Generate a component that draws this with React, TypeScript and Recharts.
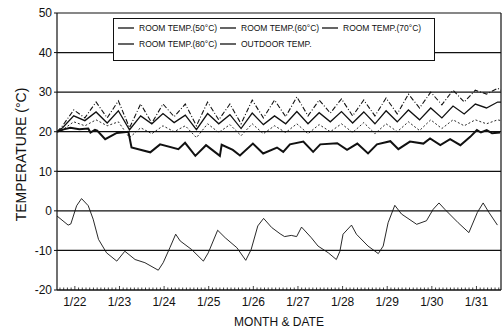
import React from 'react';
import {
  LineChart,
  Line,
  XAxis,
  YAxis,
  CartesianGrid,
  ReferenceLine,
  Legend,
} from 'recharts';

// x is measured in days from the left edge of the plot
const X_MAX = 9.95;

const dateTicks = [0.4, 1.4, 2.4, 3.4, 4.4, 5.4, 6.4, 7.4, 8.4, 9.4];
const dateLabels = ['1/22', '1/23', '1/24', '1/25', '1/26', '1/27', '1/28', '1/29', '1/30', '1/31'];
const yTicks = [-20, -10, 0, 10, 20, 30, 40, 50];

// room temps 60/70/80 share a half-day cycle grid
const gridDays = [
  0, 0.125, 0.375, 0.625, 0.875, 1.125, 1.375, 1.625, 1.875, 2.125, 2.375, 2.625, 2.875, 3.125,
  3.375, 3.625, 3.875, 4.125, 4.375, 4.625, 4.875, 5.125, 5.375, 5.625, 5.875, 6.125, 6.375,
  6.625, 6.875, 7.125, 7.375, 7.625, 7.875, 8.125, 8.375, 8.625, 8.875, 9.125, 9.375, 9.625,
  9.875, 9.95,
];
const room80Temps = [
  20, 21.5, 25.5, 23.5, 27.5, 23.5, 27.8, 21, 27, 22.2, 27, 23.8, 27, 21.5, 27.5, 23, 27, 22,
  28, 23.5, 28, 23.8, 28.8, 24, 28, 24.7, 28.3, 24, 28, 24, 28.5, 24.5, 29.5, 26, 30, 26.8,
  30.5, 27.5, 30.5, 29.5, 31, 30.5,
];
const room70Temps = [
  20, 21, 24, 22.8, 25, 22.2, 25.3, 20.5, 24, 22, 24.6, 22.3, 24.2, 20.5, 24.6, 22, 24.3, 20.8,
  24.7, 21.8, 24, 22, 25.1, 22, 24.8, 22.5, 25.1, 22.2, 25, 22, 25.3, 22.5, 25.5, 23, 26, 23.5,
  26.5, 24.5, 27, 26, 27.5, 27.5,
];
const room60Temps = [
  20, 20.5, 22.5, 21.5, 23, 21.5, 22.5, 18.5, 21, 19.5, 21.5, 20, 21.5, 18.5, 22, 19.8, 21.8,
  19, 22, 19.5, 21.5, 19.8, 22, 19.5, 21.8, 20, 22, 19.8, 22.3, 19.5, 22, 20, 22.5, 20.3, 23,
  20.8, 23, 21.5, 23, 22, 23, 22.8,
];

const room50Days = [
  0, 0.15, 0.3, 0.5, 0.7, 0.75, 0.85, 0.9, 1.08, 1.34, 1.6, 1.67, 2.09, 2.31, 2.72, 2.87, 3.1,
  3.34, 3.65, 3.69, 3.94, 4.1, 4.39, 4.62, 4.93, 5.07, 5.22, 5.52, 5.74, 5.9, 6.28, 6.5, 6.73,
  6.97, 7.17, 7.47, 7.65, 7.91, 8.21, 8.36, 8.59, 8.81, 9.04, 9.26, 9.41, 9.5, 9.63, 9.75, 9.93,
];
const room50Temps = [
  20, 20.6, 21, 20.6, 20.8, 19.8, 20.5, 20.3, 18.1, 19.7, 20, 16, 14.8, 16.8, 15.6, 17.2, 13.9,
  16.6, 13.9, 16.7, 15.4, 14, 17, 14.5, 16, 14.9, 16.8, 17.5, 14.9, 16.8, 17.1, 15.4, 17, 14.5,
  16.8, 17.6, 15.6, 17.5, 17, 18.3, 16.6, 18.1, 16.6, 18.7, 20.4, 19.8, 20.4, 19.6, 19.8,
];

const outdoorDays = [
  0, 0.25, 0.31, 0.44, 0.55, 0.7, 0.81, 0.93, 1.11, 1.34, 1.52, 1.75, 1.97, 2.27, 2.38, 2.53,
  2.66, 2.76, 3.02, 3.28, 3.39, 3.6, 3.77, 4.03, 4.23, 4.35, 4.5, 4.63, 4.81, 5.0, 5.1, 5.25,
  5.37, 5.48, 5.7, 5.85, 6.08, 6.26, 6.34, 6.41, 6.6, 6.71, 6.97, 7.2, 7.31, 7.42, 7.57, 7.72,
  8.06, 8.28, 8.43, 8.56, 8.69, 8.99, 9.23, 9.42, 9.55, 9.68, 9.87,
];
const outdoorTemps = [
  -1.3, -3.6, -3.3, 1.3, 3.1, 1.3, -2.1, -7.2, -10.6, -12.7, -10.2, -12.3, -13.1, -15, -13.1,
  -9.3, -5.9, -7.6, -9.8, -12.7, -10.6, -4.9, -6.8, -9.3, -12.5, -9.8, -3.8, -1.9, -4.2, -5.8,
  -6.5, -6.2, -6.5, -4.1, -6.8, -8.9, -10.6, -12.3, -10.2, -5.9, -3.6, -5.9, -8.9, -10.8, -8.9,
  -3.0, 1.4, -0.8, -3.4, -2.5, 0.4, 2.0, 0.4, -3.0, -5.5, -0.4, 2.0, -0.4, -3.6,
];

const toPoints = (days: number[], temps: number[]) =>
  days.map((d, i) => ({ d, v: temps[i] }));

// small tick every two hours, labelled one at noon
const minorTicks: number[] = [];
for (let j = -4; 0.4 + j / 12 <= X_MAX; j++) {
  minorTicks.push(Math.round((0.4 + j / 12) * 10000) / 10000);
}

const INK = '#111';
const FONT = '"Liberation Sans", Arial, Helvetica, sans-serif';

const series = [
  { key: 'r50', label: 'ROOM TEMP.(50°C)', data: toPoints(room50Days, room50Temps), width: 2, dash: undefined },
  { key: 'r60', label: 'ROOM TEMP.(60°C)', data: toPoints(gridDays, room60Temps), width: 0.9, dash: '2 2' },
  { key: 'r70', label: 'ROOM TEMP.(70°C)', data: toPoints(gridDays, room70Temps), width: 1.3, dash: undefined },
  { key: 'r80', label: 'ROOM TEMP.(80°C)', data: toPoints(gridDays, room80Temps), width: 1.1, dash: '5 2 1 2' },
  { key: 'out', label: 'OUTDOOR TEMP.', data: toPoints(outdoorDays, outdoorTemps), width: 0.9, dash: undefined },
];

const renderXTick = (props: any) => {
  const { x, y, payload } = props;
  const idx = dateTicks.findIndex((t) => Math.abs(t - payload.value) < 1e-6);
  return (
    <g>
      <line x1={x} y1={y} x2={x} y2={y - (idx >= 0 ? 4 : 2.5)} stroke={INK} strokeWidth={0.8} />
      {idx >= 0 && (
        <text x={x} y={y + 16} textAnchor="middle" fontSize={12} fill={INK} fontFamily={FONT}>
          {dateLabels[idx]}
        </text>
      )}
    </g>
  );
};

const YTitle = (props: any) => {
  const { viewBox } = props;
  const cx = viewBox.x - 6;
  const cy = viewBox.y + viewBox.height / 2 + 3;
  return (
    <text
      x={cx}
      y={cy}
      transform={`rotate(-90, ${cx}, ${cy})`}
      textAnchor="middle"
      dominantBaseline="central"
      fontSize={14}
      fill={INK}
      fontFamily={FONT}
    >
      TEMPERATURE (°C)
    </text>
  );
};

// legend item placement inside the box: [left, top]
const legendSpots = [
  [4, 4],
  [106, 4],
  [208, 4],
  [4, 20],
  [106, 20],
];

const LegendBox = () => (
  <div
    style={{
      width: 322,
      height: 43,
      border: `1px solid ${INK}`,
      background: '#fff',
      boxSizing: 'border-box',
      position: 'relative',
      fontFamily: FONT,
      fontSize: 8.5,
      color: INK,
    }}
  >
    {series.map((s, i) => (
      <div
        key={s.key}
        style={{
          position: 'absolute',
          left: legendSpots[i][0],
          top: legendSpots[i][1],
          display: 'flex',
          alignItems: 'center',
          whiteSpace: 'nowrap',
          lineHeight: '10px',
        }}
      >
        <svg width={16} height={8}>
          <line x1={0} y1={4} x2={16} y2={4} stroke={INK} strokeWidth={1.3} />
        </svg>
        <span style={{ marginLeft: 5 }}>{s.label}</span>
      </div>
    ))}
  </div>
);

export default function App() {
  return (
    <div style={{ position: 'absolute', left: 0, top: 0, width: 504, height: 329, background: '#fff' }}>
      <LineChart width={504} height={329} margin={{ top: 13, right: 3, bottom: 9, left: 27 }}>
        <CartesianGrid horizontal vertical={false} stroke={INK} strokeWidth={1.2} />
        <XAxis
          type="number"
          dataKey="d"
          domain={[0, X_MAX]}
          allowDataOverflow
          ticks={minorTicks}
          interval={0}
          tick={renderXTick}
          tickLine={false}
          tickSize={0}
          tickMargin={0}
          height={30}
          axisLine={{ stroke: INK, strokeWidth: 1.2 }}
          label={{ value: 'MONTH & DATE', position: 'bottom', offset: -3, fontSize: 12, fill: INK, fontFamily: FONT }}
        />
        <YAxis
          type="number"
          domain={[-20, 50]}
          ticks={yTicks}
          interval={0}
          width={30}
          tickSize={3}
          tickMargin={2}
          tick={{ fontSize: 12, fill: INK, fontFamily: FONT }}
          tickLine={{ stroke: INK }}
          axisLine={{ stroke: INK, strokeWidth: 1.2 }}
          label={<YTitle />}
        />
        <ReferenceLine x={X_MAX} stroke={INK} strokeWidth={1.2} />
        {series.map((s) => (
          <Line
            key={s.key}
            data={s.data}
            dataKey="v"
            type="linear"
            stroke={INK}
            strokeWidth={s.width}
            strokeDasharray={s.dash}
            dot={false}
            activeDot={false}
            isAnimationActive={false}
          />
        ))}
        <Legend
          verticalAlign="middle"
          align="center"
          layout="horizontal"
          content={<LegendBox />}
          wrapperStyle={{ left: 113, top: 18, width: 322, height: 43 }}
        />
      </LineChart>
    </div>
  );
}
